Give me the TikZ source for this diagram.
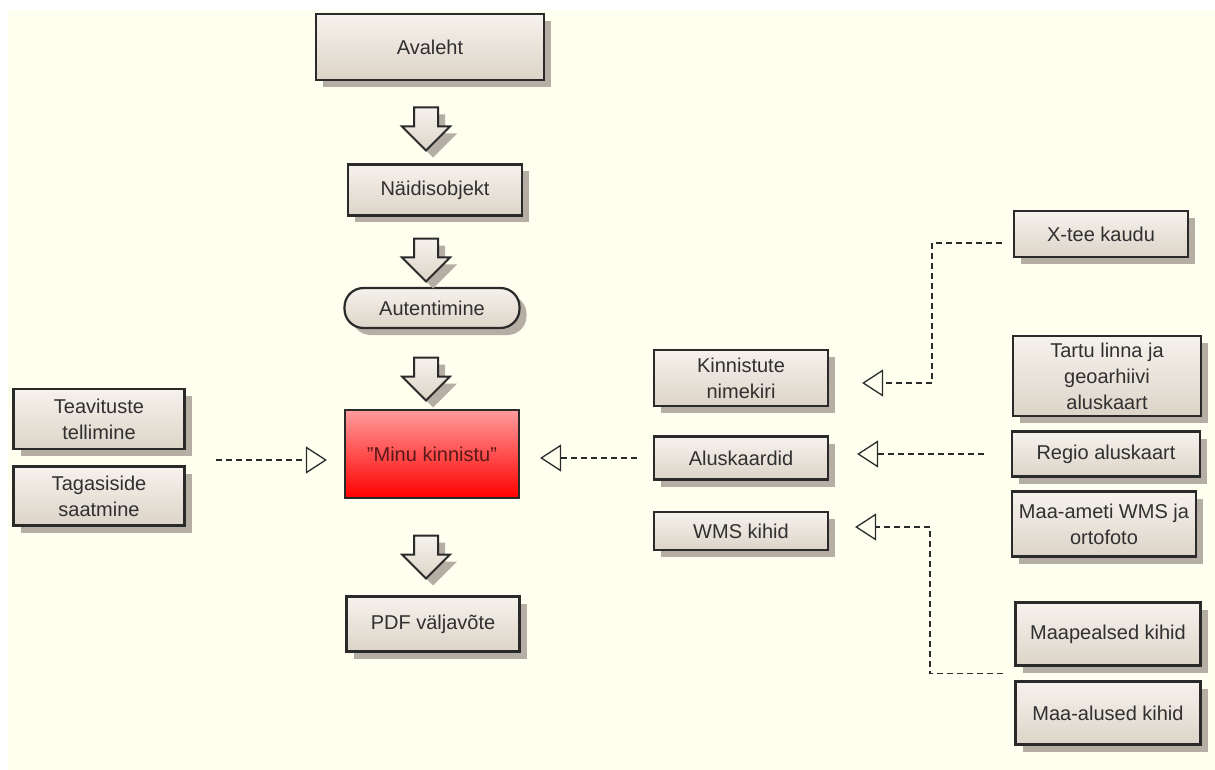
\documentclass[tikz,border=0pt]{standalone}
\usepackage{fontspec}
\setmainfont{Liberation Sans}
\usetikzlibrary{arrows.meta,shapes.arrows,shadows,calc}

\definecolor{cream}{HTML}{FFFFF0}
\definecolor{boxtop}{HTML}{F6F2EC}
\definecolor{boxbot}{HTML}{DCD4C8}
\definecolor{shadowgray}{HTML}{B5AEA4}
\definecolor{edge}{HTML}{2A2A2A}
\definecolor{txt}{HTML}{303030}
\definecolor{redtop}{HTML}{FF9C9C}
\definecolor{redbot}{HTML}{FF0000}
\definecolor{redtxt}{HTML}{5A1818}

\tikzset{
    screen/.style={draw=edge, line width=2.2pt, top color=boxtop, bottom color=boxbot,
        text=txt, align=center, inner sep=1pt, font=\fontsize{20}{26}\selectfont,
        drop shadow={shadow xshift=7pt, shadow yshift=-7pt, fill=shadowgray, opacity=1}},
    focus/.style={draw=edge, line width=2.2pt, top color=redtop, bottom color=redbot,
        text=redtxt, align=center, font=\fontsize{20}{26}\selectfont},
    flow/.style={single arrow, shape border rotate=270, draw=edge, line width=2pt,
        top color=boxtop, bottom color=boxbot, inner sep=11pt,
        minimum height=43pt, minimum width=46pt, single arrow head extend=12pt,
        drop shadow={shadow xshift=7pt, shadow yshift=-7pt, fill=shadowgray, opacity=1}},
    dep/.style={draw=edge, line width=1.2pt, dash pattern=on 6pt off 4pt,
        -{Triangle[open, length=21pt, width=27pt, line width=1.3pt]}}
}

\begin{document}
\begin{tikzpicture}[x=1pt, y=-1pt]
    % background
    \useasboundingbox (0,0) rectangle (1215,770);
    \fill[white] (0,0) rectangle (1215,770);
    \fill[cream] (8,10) rectangle (1215,770);

    % main flow
    \node[screen, minimum width=228pt, minimum height=66pt] (avaleht) at (430,47) {Avaleht};
    \node[screen, minimum width=174pt, minimum height=51pt] (naidis) at (435,190) {Näidisobjekt};
    \node[screen, minimum width=175pt, minimum height=40pt, rounded corners=19pt] (autent) at (432,308) {Autentimine};
    \node[focus, minimum width=174pt, minimum height=88pt] (minu) at (432,454) {\symbol{34}Minu kinnistu\symbol{34}};
    \node[screen, minimum width=173pt, minimum height=55pt] (pdf) at (433,624) {PDF väljavõte};

    \node[flow] (arr1) at (426,123) {};
    \node[flow] (arr2) at (426,254) {};
    \node[flow] (arr3) at (426,373) {};
    \node[flow] (arr4) at (426,551) {};

    % left
    \node[screen, minimum width=171pt, minimum height=60pt] (teav) at (99,419) {Teavituste\\tellimine};
    \node[screen, minimum width=171pt, minimum height=59pt] (tagas) at (99,496) {Tagasiside\\saatmine};

    % middle right
    \node[screen, minimum width=174pt, minimum height=56pt] (kinn) at (741,378) {Kinnistute\\nimekiri};
    \node[screen, minimum width=174pt, minimum height=43pt] (alus) at (741,458) {Aluskaardid};
    \node[screen, minimum width=174pt, minimum height=38pt] (wms) at (741,531) {WMS kihid};

    % far right
    \node[screen, minimum width=174pt, minimum height=46pt] (xtee) at (1101,234) {X-tee kaudu};
    \node[screen, minimum width=188pt, minimum height=80pt] (tartu) at (1107,376) {Tartu linna ja\\geoarhiivi\\aluskaart};
    \node[screen, minimum width=188pt, minimum height=45pt] (regio) at (1106,454) {Regio aluskaart};
    \node[screen, minimum width=184pt, minimum height=65pt] (maaamet) at (1104,524) {Maa-ameti WMS ja\\ortofoto};
    \node[screen, minimum width=185pt, minimum height=63pt] (maapeal) at (1108,634) {Maapealsed kihid};
    \node[screen, minimum width=185pt, minimum height=63pt] (maaalus) at (1108,713) {Maa-alused kihid};

    % connectors
    \coordinate (grp) at (216,460);
    \draw[dep, shorten >=17pt] (grp) -- (grp -| minu.west);
    \draw[dep, shorten <=16pt, shorten >=20pt] (alus.west) -- (alus.west -| minu.east);
    \draw[dep, shorten <=27pt, shorten >=28pt] (regio.west) -- (regio.west -| alus.east);
    \coordinate (kbend) at (932,383);
    \draw[dep, shorten >=33pt] ([xshift=-11pt, yshift=-9pt]xtee.west) -| (kbend) -- (kbend -| kinn.east);
    \coordinate (wbend) at (930,527);
    \draw[dep, shorten >=26pt] ([xshift=-11pt]$(maapeal.west)!0.5!(maaalus.west)$) -| (wbend) -- (wbend -| wms.east);
\end{tikzpicture}
\end{document}
